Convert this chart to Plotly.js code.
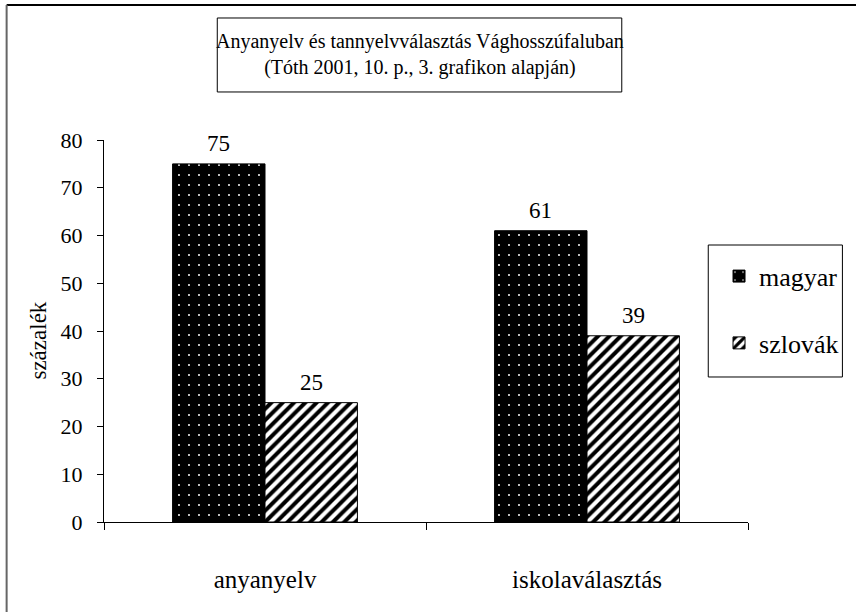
<!DOCTYPE html>
<html>
<head>
<meta charset="utf-8">
<script src="https://cdn.plot.ly/plotly-3.0.1.min.js"></script>
<style>
html,body{margin:0;padding:0;background:#fff;}
#chart{width:856px;height:612px;}
</style>
</head>
<body>
<div id="chart"></div>
<script>
const categories = ["anyanyelv", "iskolaválasztás"];
const seriesNames = ["magyar", "szlovák"];
const magyar = [75, 61];
const szlovak = [25, 39];
const yTicks = [0, 10, 20, 30, 40, 50, 60, 70, 80];
const titleLines = ["Anyanyelv és tannyelvválasztás Vághosszúfaluban", "(Tóth 2001, 10. p., 3. grafikon alapján)"];
const yTitle = "százalék";

const FONT = "Liberation Serif";

const traces = [
  {
    type: "bar", name: seriesNames[0], x: categories, y: magyar,
    legendgroup: "a",
    marker: {
      color: "#000",
      line: {color: "#000", width: 1},
      pattern: {shape: ".", fgcolor: "#fff", bgcolor: "#000", size: 10, solidity: 0.03, fillmode: "replace"}
    },
    hoverinfo: "skip"
  },
  {
    type: "bar", name: seriesNames[1], x: categories, y: szlovak,
    legendgroup: "b",
    marker: {
      color: "#fff",
      line: {color: "#000", width: 1},
      pattern: {shape: "/", fgcolor: "#000", bgcolor: "#fff", size: 8, solidity: 0.5, fillmode: "replace"}
    },
    hoverinfo: "skip"
  }
];

// data labels from the arrays
const annotations = [];
const barHalf = 46.5;
[magyar, szlovak].forEach((vals, si) => {
  vals.forEach((v, i) => {
    annotations.push({
      x: categories[i], y: v, xref: "x", yref: "y",
      text: String(v), showarrow: false,
      xshift: si === 0 ? -barHalf : barHalf,
      yanchor: "bottom", yshift: 6,
      font: {family: FONT, size: 23, color: "#000"}
    });
  });
});
// chart title (two lines, boxed)
annotations.push({
  xref: "paper", yref: "paper", x: 0.49, y: 1.223,
  xanchor: "center", yanchor: "middle", showarrow: false,
  text: titleLines.join("<br>"),
  font: {family: FONT, size: 20, color: "#000"}
});
// y axis title
annotations.push({
  xref: "paper", yref: "paper", x: -0.1019, y: 0.476,
  xanchor: "center", yanchor: "middle", showarrow: false,
  textangle: -90, text: yTitle,
  font: {family: FONT, size: 23, color: "#000"}
});

const shapes = [
  // title box
  {type: "rect", xref: "paper", yref: "paper", x0: 0.1759, x1: 0.804, y0: 1.1257, y1: 1.3194,
   line: {color: "#000", width: 1}, fillcolor: "rgba(0,0,0,0)"},
  // legend box
  {type: "rect", xref: "paper", yref: "paper", x0: 0.9383, x1: 1.1466, y0: 0.3796, y1: 0.7251,
   line: {color: "#000", width: 1}, fillcolor: "rgba(0,0,0,0)"},
  // outer border (top and left edges visible)
  {type: "line", xref: "paper", yref: "paper", x0: -0.1512, x1: 1.3, y0: 1.3534, y1: 1.3534,
   line: {color: "#000", width: 2}},
  {type: "line", xref: "paper", yref: "paper", x0: -0.1512, x1: -0.1512, y0: 1.3534, y1: -0.3,
   line: {color: "#666", width: 2}}
];

const layout = {
  width: 856, height: 612,
  margin: {l: 104, r: 104, t: 140, b: 90, pad: 0},
  paper_bgcolor: "#fff", plot_bgcolor: "#fff",
  font: {family: FONT, color: "#000"},
  barmode: "group", bargap: 0.426, bargroupgap: 0,
  showlegend: true,
  legend: {
    x: 0.955, y: 0.705, xanchor: "left", yanchor: "top",
    bgcolor: "rgba(0,0,0,0)", borderwidth: 0,
    font: {family: FONT, size: 26, color: "#000"},
    traceorder: "grouped", tracegroupgap: 30
  },
  xaxis: {
    type: "category", tickson: "boundaries", ticks: "outside", ticklen: 7, tickcolor: "#000",
    showline: true, linecolor: "#000", linewidth: 1,
    showgrid: false, zeroline: false,
    tickfont: {family: FONT, size: 25, color: "#000"},
    ticklabelstandoff: 35,
    fixedrange: true
  },
  yaxis: {
    range: [0, 80], tickvals: yTicks, ticktext: yTicks.map(String),
    ticks: "outside", ticklen: 6, tickcolor: "#000",
    showline: true, linecolor: "#000", linewidth: 1,
    showgrid: false, zeroline: false,
    tickfont: {family: FONT, size: 22, color: "#000"},
    ticklabelstandoff: 10,
    automargin: false,
    fixedrange: true
  },
  annotations: annotations,
  shapes: shapes
};

Plotly.newPlot("chart", traces, layout, {displayModeBar: false, staticPlot: true});
</script>
</body>
</html>
